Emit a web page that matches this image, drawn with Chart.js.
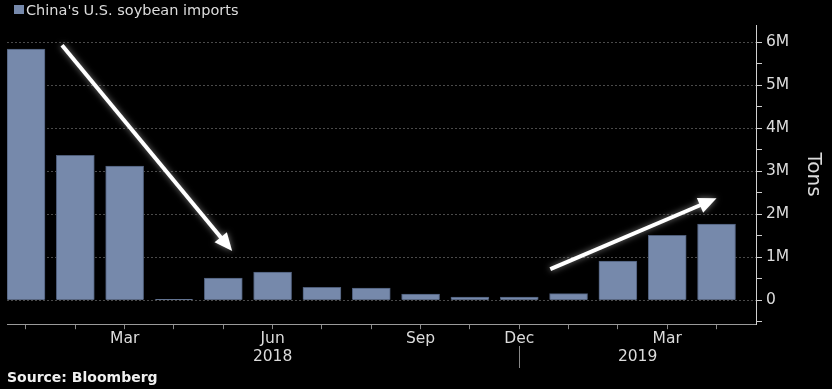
<!DOCTYPE html>
<html>
<head>
<meta charset="utf-8">
<script src="https://cdn.jsdelivr.net/npm/chart.js@4.4.1/dist/chart.umd.min.js"></script>
<style>
  html, body { margin: 0; padding: 0; background: #000; }
</style>
</head>
<body>
<canvas id="chart" width="832" height="389"></canvas>
<script>
const seriesName = "China's U.S. soybean imports";
// one bar per month, Jan 2018 onwards; only some months carry a tick label
const tickLabels = ['', '', 'Mar', '', '', 'Jun', '', '', 'Sep', '', 'Dec', '', '', 'Mar', ''];
const imports = [5840000, 3370000, 3120000, 20000, 510000, 650000, 300000, 280000,
                 140000, 70000, 70000, 150000, 910000, 1510000, 1770000];
const yTicks = [-500000, 0, 500000, 1000000, 1500000, 2000000, 2500000, 3000000,
                3500000, 4000000, 4500000, 5000000, 5500000, 6000000];
const years = [{ text: '2018', at: 5 }, { text: '2019', at: 12.4 }];
const yearBreak = 10;
// trend arrows, in data units [bar index, tons]
const trendArrows = [
  { from: [0.73, 5930000], to: [4.18, 1140000] },
  { from: [10.63, 720000], to: [14.0, 2370000] },
];

const TEXT = '#dcdcdc';
const FONT = 'DejaVu Sans';

const extras = {
  id: 'extras',
  afterDatasetsDraw(chart) {
    const { ctx, scales: { x, y } } = chart;
    ctx.save();
    ctx.strokeStyle = '#fff';
    ctx.fillStyle = '#fff';
    ctx.lineWidth = 4;
    ctx.shadowColor = 'rgba(255,255,255,0.5)';
    ctx.shadowBlur = 6;
    for (const a of trendArrows) {
      const x1 = x.getPixelForValue(a.from[0]), y1 = y.getPixelForValue(a.from[1]);
      const x2 = x.getPixelForValue(a.to[0]), y2 = y.getPixelForValue(a.to[1]);
      const ang = Math.atan2(y2 - y1, x2 - x1);
      const head = 18, half = 8;
      const bx = x2 - head * Math.cos(ang), by = y2 - head * Math.sin(ang);
      ctx.beginPath();
      ctx.moveTo(x1, y1);
      ctx.lineTo(bx + 2 * Math.cos(ang), by + 2 * Math.sin(ang));
      ctx.stroke();
      ctx.beginPath();
      ctx.moveTo(x2, y2);
      ctx.lineTo(bx + half * Math.sin(ang), by - half * Math.cos(ang));
      ctx.lineTo(bx - half * Math.sin(ang), by + half * Math.cos(ang));
      ctx.closePath();
      ctx.fill();
    }
    ctx.restore();
  },
  afterDraw(chart) {
    const { ctx, scales: { x } } = chart;
    ctx.save();
    // legend
    ctx.fillStyle = chart.data.datasets[0].backgroundColor;
    ctx.fillRect(14, 5, 10, 9);
    ctx.fillStyle = TEXT;
    ctx.font = `14.5px "${FONT}"`;
    ctx.textBaseline = 'middle';
    ctx.textAlign = 'left';
    ctx.fillText(seriesName, 26, 11);
    // year labels
    ctx.font = `15.5px "${FONT}"`;
    ctx.textAlign = 'center';
    for (const yr of years) ctx.fillText(yr.text, x.getPixelForValue(yr.at), 357);
    const bx = Math.round(x.getPixelForValue(yearBreak)) + 0.5;
    ctx.strokeStyle = '#888';
    ctx.lineWidth = 1;
    ctx.beginPath();
    ctx.moveTo(bx, 346);
    ctx.lineTo(bx, 368);
    ctx.stroke();
    ctx.restore();
  }
};

new Chart(document.getElementById('chart'), {
  type: 'bar',
  data: {
    datasets: [{
      label: seriesName,
      data: imports.map((v, i) => ({ x: i, y: v })),
      backgroundColor: '#7689ab',
      borderColor: '#4d5c78',
      borderWidth: 1,
      barThickness: 38,
    }]
  },
  options: {
    responsive: false,
    animation: false,
    devicePixelRatio: 1,
    layout: { padding: { top: 25, left: 7, right: 0, bottom: 0 } },
    plugins: {
      legend: { display: false },
      tooltip: { enabled: false },
      title: {
        display: true,
        position: 'bottom',
        align: 'start',
        text: 'Source: Bloomberg',
        color: '#f0f0f0',
        font: { family: FONT, size: 14, weight: 'bold' },
        padding: { top: 2, bottom: 2 },
      },
    },
    scales: {
      x: {
        type: 'linear',
        offset: false,
        bounds: 'data',
        min: -0.385,
        max: 14.8,
        afterBuildTicks(scale) { scale.ticks = tickLabels.map((_, i) => ({ value: i })); },
        afterFit(scale) { scale.height = 44; },
        ticks: {
          color: TEXT,
          font: { family: FONT, size: 15.5 },
          padding: 0,
          maxRotation: 0,
          autoSkip: false,
          callback: (v) => tickLabels[v] ?? '',
        },
        grid: { offset: false, drawOnChartArea: false, tickLength: 5, tickColor: '#8a8a8a' },
        border: { color: '#9a9a9a' },
      },
      y: {
        position: 'right',
        min: -560000,
        max: 6400000,
        afterBuildTicks(scale) { scale.ticks = yTicks.map(v => ({ value: v })); },
        afterFit(scale) { scale.width = 76; },
        ticks: {
          color: TEXT,
          font: { family: FONT, size: 15.5 },
          padding: 4,
          callback: (v) => v === 0 ? '0' : (v > 0 && v % 1000000 === 0 ? v / 1000000 + 'M' : ''),
        },
        grid: {
          color: (c) => (c.tick && c.tick.value >= 0 && c.tick.value % 1000000 === 0) ? '#4a4a4a' : 'rgba(0,0,0,0)',
          tickColor: '#cfcfcf',
          tickLength: 6,
          tickBorderDash: [],
        },
        border: { color: '#cfcfcf', dash: [2, 2] },
        title: {
          display: true,
          text: 'Tons',
          color: TEXT,
          font: { family: FONT, size: 20 },
          padding: { top: 7, bottom: 0 },
        },
      },
    },
  },
  plugins: [extras],
});
</script>
</body>
</html>
